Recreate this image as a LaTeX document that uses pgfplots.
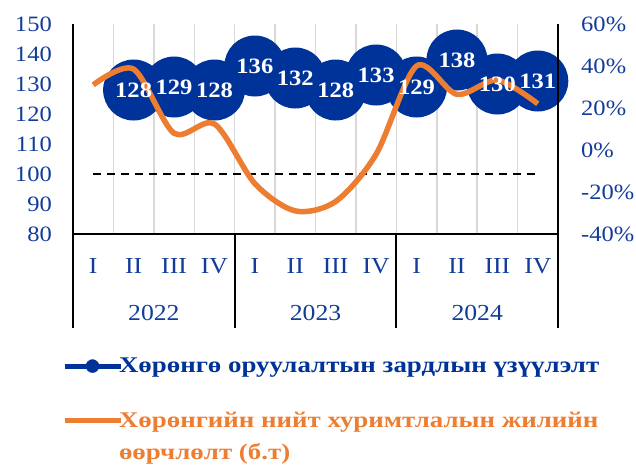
\documentclass[border=0pt]{standalone}
\usepackage{fontspec}
\setmainfont[FakeStretch=1.12]{Liberation Serif}
\newfontfamily\legfont[FakeStretch=1.2]{Liberation Serif}
\usepackage{pgfplots}
\pgfplotsset{compat=1.18}
\definecolor{blueC}{HTML}{003399}
\definecolor{tickC}{HTML}{123C99}
\definecolor{orangeC}{HTML}{ED7D31}
\definecolor{gridC}{HTML}{D9D9D9}
\pgfplotsset{
  base/.style={scale only axis, width=485bp, height=210bp, xmin=0, xmax=12, clip=false,
    /pgf/number format/assume math mode=true}
}
\begin{document}
\begin{tikzpicture}
\useasboundingbox (-73bp,-232bp) rectangle (563bp,234bp);
% left axis: blue index and 100 line
\begin{axis}[base, ymin=80, ymax=150, ytick={80,90,...,150},
  xtick={0.5,1.5,2.5,3.5,4.5,5.5,6.5,7.5,8.5,9.5,10.5,11.5},
  xticklabels={I,II,III,IV,I,II,III,IV,I,II,III,IV},
  minor xtick={1,2,3,4,5,6,7,8,9,10,11}, xminorgrids,
  minor grid style={gridC, line width=1.5bp},
  major tick length=0pt, minor tick length=0pt,
  axis x line*=bottom, axis y line*=left,
  axis line style={-, line width=2bp, black},
  tick label style={text=tickC},
  yticklabel style={font=\fontsize{22}{22}\selectfont, anchor=east, xshift=-21bp, inner sep=0pt},
  xticklabel style={font=\fontsize{23}{23}\selectfont, anchor=center, yshift=-32bp, inner sep=0pt}]
\addplot[blueC, line width=5bp, mark=*, mark size=28bp, mark options={draw=none, fill=blueC}]
  coordinates {(1.5,128) (2.5,129) (3.5,128) (4.5,136) (5.5,132) (6.5,128) (7.5,133) (8.5,129) (9.5,138) (10.5,130) (11.5,131)};
\addplot[black, line width=2bp, dash pattern=on 8bp off 6bp]
  coordinates {(0.5,100) (1.5,100) (2.5,100) (3.5,100) (4.5,100) (5.5,100) (6.5,100) (7.5,100) (8.5,100) (9.5,100) (10.5,100) (11.5,100)};
\draw[line width=2bp] (axis cs:0,80) -- ++(0bp,-94bp);
\draw[line width=2bp] (axis cs:4,80) -- ++(0bp,-94bp);
\draw[line width=2bp] (axis cs:8,80) -- ++(0bp,-94bp);
\draw[line width=2bp] (axis cs:12,80) -- ++(0bp,-94bp);
\node[font=\fontsize{23}{23}\selectfont, text=tickC, inner sep=0pt] at (axis cs:2,80) [yshift=-79bp] {2022};
\node[font=\fontsize{23}{23}\selectfont, text=tickC, inner sep=0pt] at (axis cs:6,80) [yshift=-79bp] {2023};
\node[font=\fontsize{23}{23}\selectfont, text=tickC, inner sep=0pt] at (axis cs:10,80) [yshift=-79bp] {2024};
\end{axis}
% right axis: orange growth
\begin{axis}[base, ymin=-40, ymax=60, ytick={-40,-20,0,20,40,60},
  axis y line*=right, axis x line=none,
  axis line style={-, line width=2bp, black},
  major tick length=0pt,
  yticklabel={\pgfmathprintnumber{\tick}\%},
  yticklabel style={font=\fontsize{22}{22}\selectfont, text=tickC, anchor=west, xshift=23bp, inner sep=0pt}]
\addplot[orangeC, line width=5.5bp, smooth]
  coordinates {(0.5,31) (1.5,38.5) (2.5,8) (3.5,12.4) (4.5,-16) (5.5,-29) (6.5,-24.5) (7.5,-2) (8.5,40) (9.5,26.5) (10.5,33.3) (11.5,22)};
\end{axis}
% labels and legend
\begin{axis}[base, ymin=80, ymax=150, hide axis,
  legend style={at={(axis description cs:0,0)}, anchor=north west, xshift=-11bp, yshift=-124bp,
    draw=none, fill=none, inner sep=0pt, outer sep=0pt,
    font=\legfont\bfseries\fontsize{22.5}{31}\selectfont, cells={anchor=west},
    column sep=-4bp, row sep=38bp, nodes={inner sep=0pt}},
  legend cell align=left]
\addlegendimage{legend image code/.code={\draw[blueC, line width=5bp] (0bp,0bp) -- (56bp,0bp); \fill[blueC] (28bp,0bp) circle (6.5bp);}}
\addlegendentry[text=blueC]{Хөрөнгө оруулалтын зардлын үзүүлэлт}
\addlegendimage{legend image code/.code={\draw[orangeC, line width=5bp] (0bp,0bp) -- (56bp,0bp);}}
\addlegendentry[text=orangeC]{Хөрөнгийн нийт хуримтлалын жилийн}
\addlegendimage{empty legend}
\addlegendentry[text=orangeC]{\raisebox{8bp}[0pt][0pt]{өөрчлөлт (б.т)}}
\addplot[forget plot, draw=none, mark=none, nodes near coords,
  every node near coord/.append style={anchor=center, font=\bfseries\fontsize{22}{22}\selectfont, text=white, inner sep=0pt}]
  coordinates {(1.5,128) (2.5,129) (3.5,128) (4.5,136) (5.5,132) (6.5,128) (7.5,133) (8.5,129) (9.5,138) (10.5,130) (11.5,131)};
\end{axis}
\end{tikzpicture}
\end{document}
